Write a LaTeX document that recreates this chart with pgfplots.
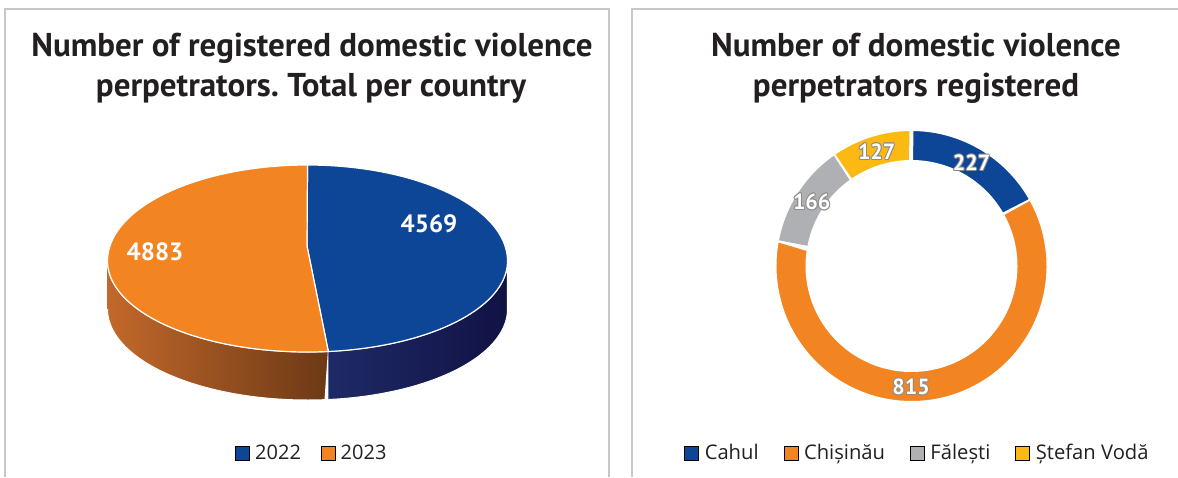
\documentclass[border=0pt]{standalone}
\usepackage{pgfplots}
\pgfplotsset{compat=1.18}
\usepackage{pgfplotstable}
\usepackage{fontspec}
\setmainfont{Open Sans}
\newfontfamily\tf{PT Sans}
\frenchspacing

\definecolor{cblue}{RGB}{13,70,150}
\definecolor{corange}{RGB}{242,133,34}
\definecolor{cgray}{RGB}{175,176,179}
\definecolor{cyellow}{RGB}{253,185,19}
\definecolor{ctext}{RGB}{35,31,32}
\definecolor{cframe}{RGB}{200,200,200}
\definecolor{chalo}{RGB}{140,140,140}
\definecolor{osideL}{RGB}{194,104,42}
\definecolor{osideR}{RGB}{108,57,22}
\definecolor{bsideL}{RGB}{30,42,102}
\definecolor{bsideR}{RGB}{17,18,68}

\pgfplotstableread{
year value
2022 4569
2023 4883
}\yeartable
\pgfplotstableread{
district value
Cahul 227
Chisinau 815
Falesti 166
StefanVoda 127
}\disttable

% geometry (1 px = 0.5 pt)
\def\pcx{307.5}\def\pcy{261}\def\prx{200}\def\pryt{96}\def\pryb{91}\def\pdep{48}
\def\dcx{911.5}\def\dcy{266}\def\rO{137}\def\rI{104}

\pgfplotsset{
  base/.style={
    scale only axis, width=589pt, height=238.5pt,
    xmin=0, xmax=1178, ymin=0, ymax=477, y dir=reverse,
    hide axis, clip=false,
    legend image code/.code={\fill[##1] (0pt,-3.5pt) rectangle (7pt,3.5pt);},
  },
}

\newcommand\seg[3]{%
  \addplot[fill=#3, draw=white, line width=2pt, domain=0:2, samples=241, forget plot]
  ({\dcx+((x<=1)?\rO:\rI)*cos(((x<=1)?((#1)+((#2)-(#1))*x):((#2)-((#2)-(#1))*(x-1))))},
   {\dcy-((x<=1)?\rO:\rI)*sin(((x<=1)?((#1)+((#2)-(#1))*x):((#2)-((#2)-(#1))*(x-1))))});%
}
\tikzset{dl/.style={font=\tf\bfseries\fontsize{11}{13}\selectfont},
  tt/.style={anchor=base, text=ctext, font=\tf\bfseries\fontsize{16.5}{19}\selectfont}}
\newcommand\dlabel[2]{%
  \node[chalo, dl, xshift=-0.5pt] at (#1) {#2};%
  \node[chalo, dl, xshift=0.5pt] at (#1) {#2};%
  \node[chalo, dl, yshift=-0.5pt] at (#1) {#2};%
  \node[chalo, dl, yshift=0.5pt] at (#1) {#2};%
  \node[chalo, dl, xshift=0.35pt, yshift=0.35pt] at (#1) {#2};%
  \node[chalo, dl, xshift=-0.35pt, yshift=0.35pt] at (#1) {#2};%
  \node[chalo, dl, xshift=0.35pt, yshift=-0.35pt] at (#1) {#2};%
  \node[chalo, dl, xshift=-0.35pt, yshift=-0.35pt] at (#1) {#2};%
  \node[white, dl] at (#1) {#2};%
}

\begin{document}%
\begin{tikzpicture}
\pgfplotstablegetelem{0}{value}\of\yeartable \pgfmathsetmacro\va{\pgfplotsretval}
\pgfplotstablegetelem{1}{value}\of\yeartable \pgfmathsetmacro\vb{\pgfplotsretval}
\pgfmathsetmacro\splitA{90-360*(\va/(\va+\vb))}
\pgfmathsetmacro\splitB{\splitA+360}
\pgfplotstablegetelem{0}{value}\of\disttable \pgfmathsetmacro\da{\pgfplotsretval}
\pgfplotstablegetelem{1}{value}\of\disttable \pgfmathsetmacro\db{\pgfplotsretval}
\pgfplotstablegetelem{2}{value}\of\disttable \pgfmathsetmacro\dc{\pgfplotsretval}
\pgfplotstablegetelem{3}{value}\of\disttable \pgfmathsetmacro\dd{\pgfplotsretval}
\pgfmathsetmacro\tot{\da+\db+\dc+\dd}
\pgfmathsetmacro\aA{90-360*(\da/\tot)}
\pgfmathsetmacro\aB{\aA-360*(\db/\tot)}
\pgfmathsetmacro\aC{\aB-360*(\dc/\tot)}
% ---------------- left panel ----------------
\begin{axis}[base, name=ax1,
  legend style={at={(0.1995,0.0493)}, anchor=west, draw=none, fill=none,
    inner xsep=0pt, inner ysep=0pt,
    legend columns=-1, font=\fontsize{10}{12}\selectfont, text=ctext,
    nodes={inner sep=0pt},
    /tikz/every odd column/.append style={column sep=2.5pt},
    /tikz/every even column/.append style={column sep=10pt}},
]
\addlegendimage{fill=cblue}
\addlegendentry{2022}
\addlegendimage{fill=corange}
\addlegendentry{2023}
\draw[cframe, line width=0.75pt] (5,477) -- (5,9) -- (609,9) -- (609,477);
% sides
\addplot[left color=osideL, right color=osideR, draw=white, line width=0.5pt,
  domain=0:2, samples=201, forget plot]
  ({\pcx+\prx*cos(((x<=1)?(180+(\splitB-180)*x):(\splitB-(\splitB-180)*(x-1))))},
   {\pcy-\pryb*sin(((x<=1)?(180+(\splitB-180)*x):(\splitB-(\splitB-180)*(x-1))))+((x>1)?\pdep:0)});
\addplot[left color=bsideL, right color=bsideR, draw=white, line width=0.5pt,
  domain=0:2, samples=201, forget plot]
  ({\pcx+\prx*cos(((x<=1)?(\splitB+(360-\splitB)*x):(360-(360-\splitB)*(x-1))))},
   {\pcy-\pryb*sin(((x<=1)?(\splitB+(360-\splitB)*x):(360-(360-\splitB)*(x-1))))+((x>1)?\pdep:0)});
% tops
\addplot[fill=cblue, draw=white, line width=0.6pt, domain=\splitA:90, samples=150, forget plot]
  ({\pcx+\prx*cos(x)},{\pcy-((sin(x)>0)?\pryt:\pryb)*sin(x)}) -- (307,246) -- cycle;
\addplot[fill=corange, draw=white, line width=0.6pt, domain=90:\splitB, samples=150, forget plot]
  ({\pcx+\prx*cos(x)},{\pcy-((sin(x)>0)?\pryt:\pryb)*sin(x)}) -- (307,246) -- cycle;
% labels
\node[white, font=\tf\bfseries\fontsize{12.5}{15}\selectfont] at (429,223.5) {4569};
\node[white, font=\tf\bfseries\fontsize{12.5}{15}\selectfont] at (155,251.5) {4883};
% title
\node[tt] at (312,56) {Number of registered domestic violence};
\node[tt] at (311,96) {perpetrators. Total per country};
\end{axis}
% ---------------- right panel ----------------
\begin{axis}[base,
  legend style={at={(0.5806,0.0493)}, anchor=west, draw=none, fill=none,
    inner xsep=0pt, inner ysep=0pt,
    legend columns=-1, font=\fontsize{10.1}{12}\selectfont, text=ctext,
    nodes={inner sep=0pt},
    /tikz/every odd column/.append style={column sep=2.8pt},
    /tikz/every even column/.append style={column sep=12.5pt}},
]
\addlegendimage{fill=cblue}
\addlegendentry{Cahul}
\addlegendimage{fill=corange}
\addlegendentry{Chișinău}
\addlegendimage{fill=cgray}
\addlegendentry{Fălești}
\addlegendimage{fill=cyellow}
\addlegendentry{Ștefan Vodă}
\draw[cframe, line width=0.75pt] (632,477) -- (632,9) -- (1178,9);
\seg{90}{\aA}{cblue}
\seg{\aA}{\aB}{corange}
\seg{\aB}{\aC}{cgray}
\seg{\aC}{-270}{cyellow}
\dlabel{971.5,163}{227}
\dlabel{911,387}{815}
\dlabel{811.7,201.7}{166}
\dlabel{876.7,151.7}{127}
\node[tt] at (916,56) {Number of domestic violence};
\node[tt] at (916,96) {perpetrators registered};
\end{axis}
\pgfresetboundingbox
\path (ax1.south west) rectangle (ax1.north east);
\end{tikzpicture}%
\end{document}
